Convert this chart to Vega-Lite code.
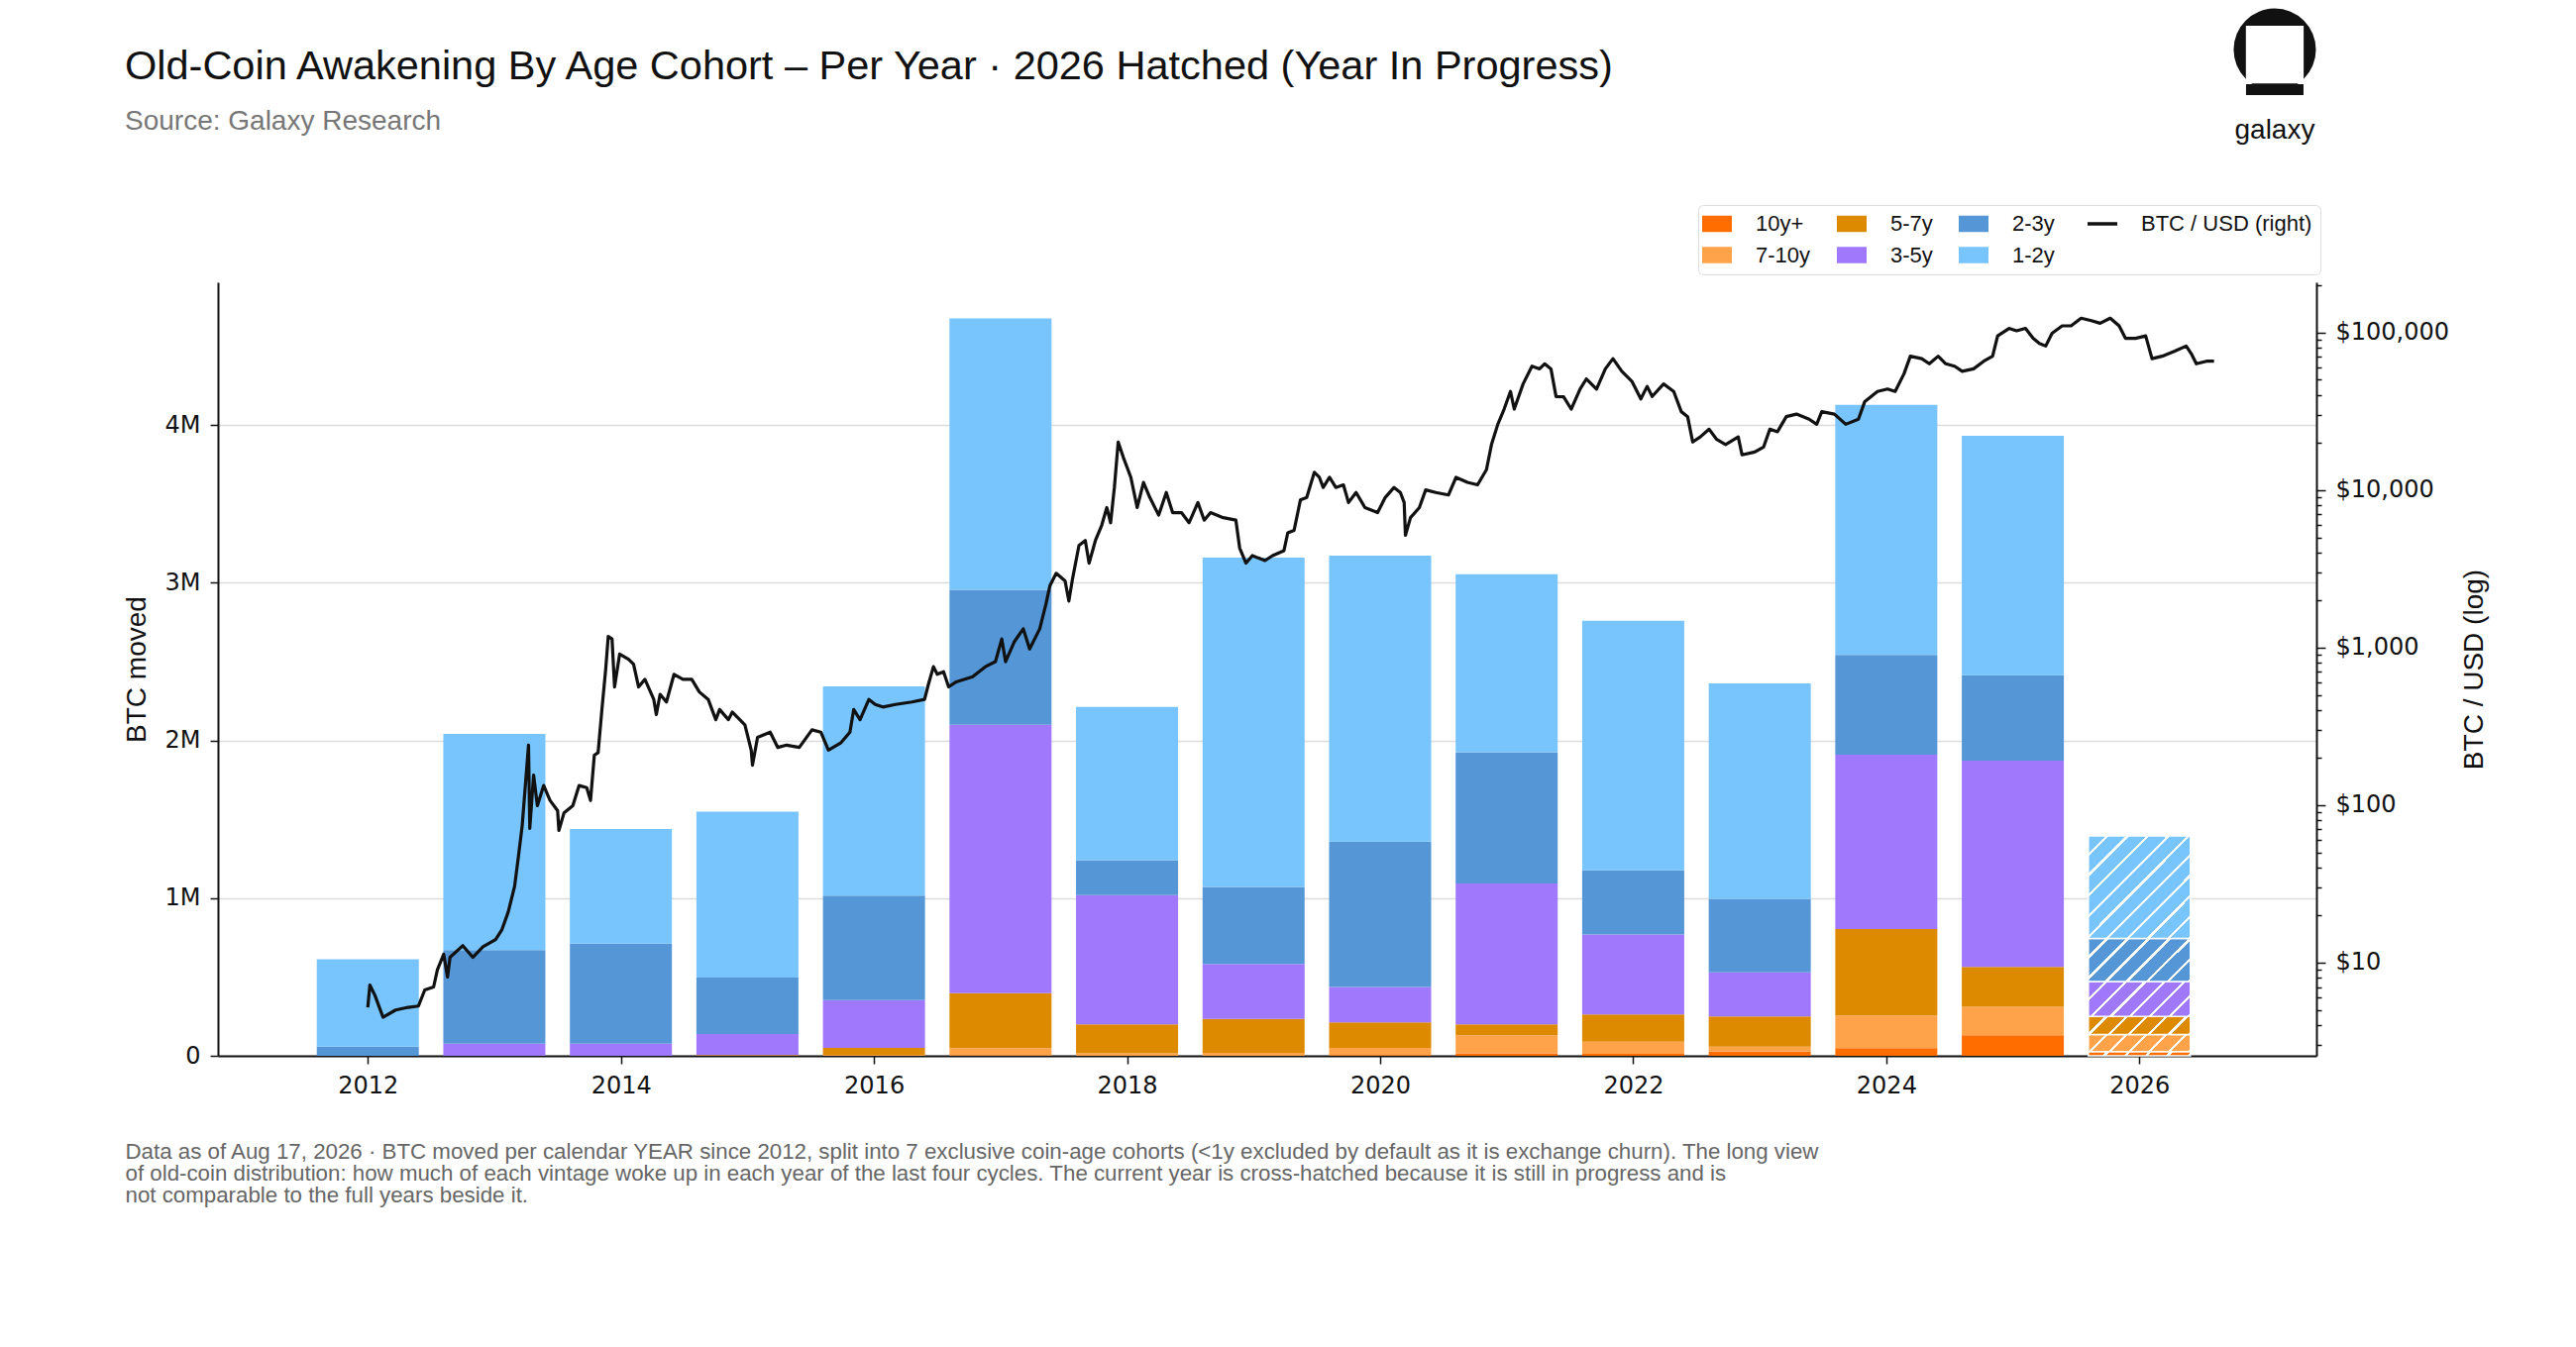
{
  "$schema": "https://vega.github.io/schema/vega-lite/v6.json",
  "description": "Old-coin awakening by age cohort, per year, with BTC/USD on a log right axis",
  "width": 2118,
  "height": 781,
  "autosize": {"type": "none"},
  "padding": {"left": 220, "top": 285, "right": 262, "bottom": 294},
  "background": "white",
  "title": {
    "text": "Old-Coin Awakening By Age Cohort \u2013 Per Year \u00b7 2026 Hatched (Year In Progress)",
    "subtitle": "Source: Galaxy Research",
    "anchor": "start",
    "frame": "group",
    "dx": -94,
    "offset": -129,
    "font": "Liberation Sans",
    "fontSize": 41.5,
    "fontWeight": "normal",
    "color": "#111111",
    "subtitleFont": "Liberation Sans",
    "subtitleFontSize": 28,
    "subtitleColor": "#777777",
    "subtitlePadding": 21
  },
  "config": {
    "view": {"stroke": null},
    "axis": {
      "labelFont": "DejaVu Sans",
      "labelFontSize": 24,
      "labelColor": "#111111",
      "domainColor": "#111111",
      "domainWidth": 2,
      "tickColor": "#111111",
      "tickWidth": 1.5,
      "tickSize": 8,
      "titleFont": "Liberation Sans",
      "titleFontSize": 28,
      "titleFontWeight": "normal",
      "titleColor": "#111111"
    }
  },
  "datasets": {
    "bars": [
      {"year": 2012, "cohort": "10y+", "k": 1, "btc": 0},
      {"year": 2012, "cohort": "7-10y", "k": 2, "btc": 0},
      {"year": 2012, "cohort": "5-7y", "k": 3, "btc": 0},
      {"year": 2012, "cohort": "3-5y", "k": 4, "btc": 0},
      {"year": 2012, "cohort": "2-3y", "k": 5, "btc": 58000},
      {"year": 2012, "cohort": "1-2y", "k": 6, "btc": 554000},
      {"year": 2013, "cohort": "10y+", "k": 1, "btc": 0},
      {"year": 2013, "cohort": "7-10y", "k": 2, "btc": 0},
      {"year": 2013, "cohort": "5-7y", "k": 3, "btc": 0},
      {"year": 2013, "cohort": "3-5y", "k": 4, "btc": 77000},
      {"year": 2013, "cohort": "2-3y", "k": 5, "btc": 593000},
      {"year": 2013, "cohort": "1-2y", "k": 6, "btc": 1372000},
      {"year": 2014, "cohort": "10y+", "k": 1, "btc": 0},
      {"year": 2014, "cohort": "7-10y", "k": 2, "btc": 0},
      {"year": 2014, "cohort": "5-7y", "k": 3, "btc": 0},
      {"year": 2014, "cohort": "3-5y", "k": 4, "btc": 77000},
      {"year": 2014, "cohort": "2-3y", "k": 5, "btc": 635000},
      {"year": 2014, "cohort": "1-2y", "k": 6, "btc": 727000},
      {"year": 2015, "cohort": "10y+", "k": 1, "btc": 0},
      {"year": 2015, "cohort": "7-10y", "k": 2, "btc": 0},
      {"year": 2015, "cohort": "5-7y", "k": 3, "btc": 5000},
      {"year": 2015, "cohort": "3-5y", "k": 4, "btc": 133000},
      {"year": 2015, "cohort": "2-3y", "k": 5, "btc": 359000},
      {"year": 2015, "cohort": "1-2y", "k": 6, "btc": 1051000},
      {"year": 2016, "cohort": "10y+", "k": 1, "btc": 0},
      {"year": 2016, "cohort": "7-10y", "k": 2, "btc": 6000},
      {"year": 2016, "cohort": "5-7y", "k": 3, "btc": 45000},
      {"year": 2016, "cohort": "3-5y", "k": 4, "btc": 302000},
      {"year": 2016, "cohort": "2-3y", "k": 5, "btc": 663000},
      {"year": 2016, "cohort": "1-2y", "k": 6, "btc": 1327000},
      {"year": 2017, "cohort": "10y+", "k": 1, "btc": 3000},
      {"year": 2017, "cohort": "7-10y", "k": 2, "btc": 45000},
      {"year": 2017, "cohort": "5-7y", "k": 3, "btc": 349000},
      {"year": 2017, "cohort": "3-5y", "k": 4, "btc": 1702000},
      {"year": 2017, "cohort": "2-3y", "k": 5, "btc": 856000},
      {"year": 2017, "cohort": "1-2y", "k": 6, "btc": 1721000},
      {"year": 2018, "cohort": "10y+", "k": 1, "btc": 0},
      {"year": 2018, "cohort": "7-10y", "k": 2, "btc": 16000},
      {"year": 2018, "cohort": "5-7y", "k": 3, "btc": 183000},
      {"year": 2018, "cohort": "3-5y", "k": 4, "btc": 820000},
      {"year": 2018, "cohort": "2-3y", "k": 5, "btc": 221000},
      {"year": 2018, "cohort": "1-2y", "k": 6, "btc": 972000},
      {"year": 2019, "cohort": "10y+", "k": 1, "btc": 0},
      {"year": 2019, "cohort": "7-10y", "k": 2, "btc": 19000},
      {"year": 2019, "cohort": "5-7y", "k": 3, "btc": 215000},
      {"year": 2019, "cohort": "3-5y", "k": 4, "btc": 349000},
      {"year": 2019, "cohort": "2-3y", "k": 5, "btc": 488000},
      {"year": 2019, "cohort": "1-2y", "k": 6, "btc": 2089000},
      {"year": 2020, "cohort": "10y+", "k": 1, "btc": 5000},
      {"year": 2020, "cohort": "7-10y", "k": 2, "btc": 46000},
      {"year": 2020, "cohort": "5-7y", "k": 3, "btc": 161000},
      {"year": 2020, "cohort": "3-5y", "k": 4, "btc": 224000},
      {"year": 2020, "cohort": "2-3y", "k": 5, "btc": 923000},
      {"year": 2020, "cohort": "1-2y", "k": 6, "btc": 1814000},
      {"year": 2021, "cohort": "10y+", "k": 1, "btc": 16000},
      {"year": 2021, "cohort": "7-10y", "k": 2, "btc": 115000},
      {"year": 2021, "cohort": "5-7y", "k": 3, "btc": 68000},
      {"year": 2021, "cohort": "3-5y", "k": 4, "btc": 894000},
      {"year": 2021, "cohort": "2-3y", "k": 5, "btc": 833000},
      {"year": 2021, "cohort": "1-2y", "k": 6, "btc": 1128000},
      {"year": 2022, "cohort": "10y+", "k": 1, "btc": 12000},
      {"year": 2022, "cohort": "7-10y", "k": 2, "btc": 78000},
      {"year": 2022, "cohort": "5-7y", "k": 3, "btc": 173000},
      {"year": 2022, "cohort": "3-5y", "k": 4, "btc": 506000},
      {"year": 2022, "cohort": "2-3y", "k": 5, "btc": 407000},
      {"year": 2022, "cohort": "1-2y", "k": 6, "btc": 1584000},
      {"year": 2023, "cohort": "10y+", "k": 1, "btc": 26000},
      {"year": 2023, "cohort": "7-10y", "k": 2, "btc": 32000},
      {"year": 2023, "cohort": "5-7y", "k": 3, "btc": 192000},
      {"year": 2023, "cohort": "3-5y", "k": 4, "btc": 279000},
      {"year": 2023, "cohort": "2-3y", "k": 5, "btc": 465000},
      {"year": 2023, "cohort": "1-2y", "k": 6, "btc": 1368000},
      {"year": 2024, "cohort": "10y+", "k": 1, "btc": 48000},
      {"year": 2024, "cohort": "7-10y", "k": 2, "btc": 208000},
      {"year": 2024, "cohort": "5-7y", "k": 3, "btc": 548000},
      {"year": 2024, "cohort": "3-5y", "k": 4, "btc": 1106000},
      {"year": 2024, "cohort": "2-3y", "k": 5, "btc": 632000},
      {"year": 2024, "cohort": "1-2y", "k": 6, "btc": 1586000},
      {"year": 2025, "cohort": "10y+", "k": 1, "btc": 131000},
      {"year": 2025, "cohort": "7-10y", "k": 2, "btc": 180000},
      {"year": 2025, "cohort": "5-7y", "k": 3, "btc": 253000},
      {"year": 2025, "cohort": "3-5y", "k": 4, "btc": 1308000},
      {"year": 2025, "cohort": "2-3y", "k": 5, "btc": 541000},
      {"year": 2025, "cohort": "1-2y", "k": 6, "btc": 1520000},
      {"year": 2026, "cohort": "10y+", "k": 1, "btc": 26000},
      {"year": 2026, "cohort": "7-10y", "k": 2, "btc": 109000},
      {"year": 2026, "cohort": "5-7y", "k": 3, "btc": 115000},
      {"year": 2026, "cohort": "3-5y", "k": 4, "btc": 221000},
      {"year": 2026, "cohort": "2-3y", "k": 5, "btc": 273000},
      {"year": 2026, "cohort": "1-2y", "k": 6, "btc": 650000}
    ],
    "price": [
      {"t": 2012.0, "p": 5.2}, {"t": 2012.016, "p": 7.2}, {"t": 2012.056, "p": 6.2}, {"t": 2012.12, "p": 4.5},
      {"t": 2012.22, "p": 5.0}, {"t": 2012.32, "p": 5.2}, {"t": 2012.4, "p": 5.3}, {"t": 2012.45, "p": 6.7},
      {"t": 2012.52, "p": 7.0}, {"t": 2012.55, "p": 9.0}, {"t": 2012.6, "p": 11.3}, {"t": 2012.63, "p": 8.1},
      {"t": 2012.65, "p": 10.8}, {"t": 2012.75, "p": 12.8}, {"t": 2012.83, "p": 10.8}, {"t": 2012.91, "p": 12.6},
      {"t": 2013.01, "p": 14.0}, {"t": 2013.06, "p": 16.2}, {"t": 2013.11, "p": 21}, {"t": 2013.16, "p": 30.5},
      {"t": 2013.19, "p": 47}, {"t": 2013.22, "p": 74}, {"t": 2013.27, "p": 240}, {"t": 2013.28, "p": 71},
      {"t": 2013.31, "p": 155}, {"t": 2013.34, "p": 99}, {"t": 2013.39, "p": 133}, {"t": 2013.44, "p": 107},
      {"t": 2013.5, "p": 92}, {"t": 2013.51, "p": 69}, {"t": 2013.55, "p": 89}, {"t": 2013.62, "p": 99},
      {"t": 2013.67, "p": 133}, {"t": 2013.73, "p": 129}, {"t": 2013.76, "p": 107}, {"t": 2013.79, "p": 207},
      {"t": 2013.82, "p": 215}, {"t": 2013.85, "p": 404}, {"t": 2013.88, "p": 728}, {"t": 2013.9, "p": 1175},
      {"t": 2013.93, "p": 1132}, {"t": 2013.95, "p": 562}, {"t": 2013.99, "p": 908}, {"t": 2014.06, "p": 843},
      {"t": 2014.1, "p": 783}, {"t": 2014.14, "p": 562}, {"t": 2014.19, "p": 628}, {"t": 2014.26, "p": 468},
      {"t": 2014.28, "p": 375}, {"t": 2014.31, "p": 504}, {"t": 2014.36, "p": 451}, {"t": 2014.42, "p": 676},
      {"t": 2014.49, "p": 628}, {"t": 2014.56, "p": 628}, {"t": 2014.62, "p": 522}, {"t": 2014.69, "p": 468},
      {"t": 2014.75, "p": 348}, {"t": 2014.78, "p": 404}, {"t": 2014.85, "p": 348}, {"t": 2014.88, "p": 389},
      {"t": 2014.98, "p": 323}, {"t": 2015.03, "p": 223}, {"t": 2015.04, "p": 179}, {"t": 2015.08, "p": 269},
      {"t": 2015.18, "p": 290}, {"t": 2015.24, "p": 232}, {"t": 2015.31, "p": 240}, {"t": 2015.41, "p": 232},
      {"t": 2015.51, "p": 300}, {"t": 2015.58, "p": 290}, {"t": 2015.64, "p": 223}, {"t": 2015.74, "p": 249},
      {"t": 2015.81, "p": 290}, {"t": 2015.84, "p": 404}, {"t": 2015.89, "p": 348}, {"t": 2015.96, "p": 468},
      {"t": 2016.01, "p": 435}, {"t": 2016.07, "p": 419}, {"t": 2016.17, "p": 435}, {"t": 2016.3, "p": 451},
      {"t": 2016.4, "p": 468}, {"t": 2016.43, "p": 583}, {"t": 2016.47, "p": 755}, {"t": 2016.5, "p": 676},
      {"t": 2016.55, "p": 702}, {"t": 2016.59, "p": 562}, {"t": 2016.65, "p": 605}, {"t": 2016.78, "p": 652},
      {"t": 2016.88, "p": 755}, {"t": 2016.96, "p": 813}, {"t": 2017.01, "p": 1132}, {"t": 2017.04, "p": 813},
      {"t": 2017.11, "p": 1091}, {"t": 2017.18, "p": 1314}, {"t": 2017.23, "p": 978}, {"t": 2017.31, "p": 1314},
      {"t": 2017.36, "p": 1900}, {"t": 2017.39, "p": 2460}, {"t": 2017.44, "p": 2958}, {"t": 2017.51, "p": 2650},
      {"t": 2017.54, "p": 1972}, {"t": 2017.57, "p": 2750}, {"t": 2017.62, "p": 4440}, {"t": 2017.67, "p": 4776},
      {"t": 2017.7, "p": 3430}, {"t": 2017.75, "p": 4776}, {"t": 2017.8, "p": 5970}, {"t": 2017.84, "p": 7730},
      {"t": 2017.87, "p": 6190}, {"t": 2017.9, "p": 10370}, {"t": 2017.93, "p": 20140}, {"t": 2017.97, "p": 16140},
      {"t": 2018.0, "p": 13930}, {"t": 2018.03, "p": 12020}, {"t": 2018.08, "p": 7730}, {"t": 2018.13, "p": 11170},
      {"t": 2018.18, "p": 8950}, {"t": 2018.25, "p": 6920}, {"t": 2018.31, "p": 9640}, {"t": 2018.36, "p": 7180},
      {"t": 2018.43, "p": 7180}, {"t": 2018.49, "p": 6190}, {"t": 2018.56, "p": 8320}, {"t": 2018.61, "p": 6430},
      {"t": 2018.66, "p": 7180}, {"t": 2018.76, "p": 6670}, {"t": 2018.86, "p": 6430}, {"t": 2018.89, "p": 4280},
      {"t": 2018.94, "p": 3430}, {"t": 2018.99, "p": 3830}, {"t": 2019.09, "p": 3560}, {"t": 2019.15, "p": 3830},
      {"t": 2019.24, "p": 4120}, {"t": 2019.27, "p": 5340}, {"t": 2019.32, "p": 5540}, {"t": 2019.37, "p": 8630},
      {"t": 2019.42, "p": 8950}, {"t": 2019.48, "p": 12940}, {"t": 2019.52, "p": 12020}, {"t": 2019.55, "p": 10370},
      {"t": 2019.6, "p": 12020}, {"t": 2019.65, "p": 10370}, {"t": 2019.71, "p": 10770}, {"t": 2019.75, "p": 8320},
      {"t": 2019.81, "p": 9640}, {"t": 2019.88, "p": 7730}, {"t": 2019.98, "p": 7180}, {"t": 2020.04, "p": 8950},
      {"t": 2020.11, "p": 10370}, {"t": 2020.16, "p": 9640}, {"t": 2020.19, "p": 8320}, {"t": 2020.2, "p": 5150},
      {"t": 2020.24, "p": 6670}, {"t": 2020.31, "p": 7730}, {"t": 2020.36, "p": 10000}, {"t": 2020.44, "p": 9640},
      {"t": 2020.54, "p": 9290}, {"t": 2020.6, "p": 12020}, {"t": 2020.69, "p": 11170}, {"t": 2020.77, "p": 10770},
      {"t": 2020.84, "p": 13430}, {"t": 2020.88, "p": 19410}, {"t": 2020.93, "p": 26100}, {"t": 2020.98, "p": 32600},
      {"t": 2021.03, "p": 42200}, {"t": 2021.06, "p": 32600}, {"t": 2021.13, "p": 47100}, {"t": 2021.2, "p": 61000},
      {"t": 2021.26, "p": 58700}, {"t": 2021.3, "p": 63200}, {"t": 2021.35, "p": 58700}, {"t": 2021.39, "p": 39200},
      {"t": 2021.45, "p": 39000}, {"t": 2021.51, "p": 32600}, {"t": 2021.58, "p": 43700}, {"t": 2021.63, "p": 50700},
      {"t": 2021.71, "p": 43700}, {"t": 2021.78, "p": 58700}, {"t": 2021.84, "p": 68100}, {"t": 2021.91, "p": 56600},
      {"t": 2021.99, "p": 48900}, {"t": 2022.06, "p": 37800}, {"t": 2022.11, "p": 45400}, {"t": 2022.15, "p": 39200},
      {"t": 2022.24, "p": 47100}, {"t": 2022.32, "p": 42200}, {"t": 2022.38, "p": 31400}, {"t": 2022.43, "p": 29200},
      {"t": 2022.47, "p": 20140}, {"t": 2022.53, "p": 21700}, {"t": 2022.6, "p": 24300}, {"t": 2022.66, "p": 20900},
      {"t": 2022.73, "p": 19400}, {"t": 2022.83, "p": 21700}, {"t": 2022.86, "p": 16700}, {"t": 2022.96, "p": 17400},
      {"t": 2023.03, "p": 18700}, {"t": 2023.08, "p": 24300}, {"t": 2023.14, "p": 23400}, {"t": 2023.21, "p": 29200},
      {"t": 2023.29, "p": 30300}, {"t": 2023.39, "p": 28100}, {"t": 2023.45, "p": 26100}, {"t": 2023.49, "p": 31400},
      {"t": 2023.59, "p": 30300}, {"t": 2023.68, "p": 26100}, {"t": 2023.78, "p": 28100}, {"t": 2023.83, "p": 36400},
      {"t": 2023.93, "p": 42200}, {"t": 2024.01, "p": 43700}, {"t": 2024.07, "p": 42200}, {"t": 2024.14, "p": 54600},
      {"t": 2024.19, "p": 70600}, {"t": 2024.28, "p": 68100}, {"t": 2024.34, "p": 63200}, {"t": 2024.41, "p": 70600},
      {"t": 2024.47, "p": 63200}, {"t": 2024.54, "p": 61000}, {"t": 2024.6, "p": 56600}, {"t": 2024.69, "p": 58700},
      {"t": 2024.77, "p": 65600}, {"t": 2024.84, "p": 70600}, {"t": 2024.88, "p": 95000}, {"t": 2024.97, "p": 106000},
      {"t": 2025.03, "p": 102300}, {"t": 2025.1, "p": 106000}, {"t": 2025.16, "p": 91700}, {"t": 2025.21, "p": 85000},
      {"t": 2025.26, "p": 81900}, {"t": 2025.31, "p": 98600}, {"t": 2025.39, "p": 110000}, {"t": 2025.46, "p": 110000},
      {"t": 2025.54, "p": 123000}, {"t": 2025.62, "p": 118600}, {"t": 2025.69, "p": 114300}, {"t": 2025.77, "p": 123000},
      {"t": 2025.84, "p": 110000}, {"t": 2025.89, "p": 91700}, {"t": 2025.97, "p": 91700}, {"t": 2026.05, "p": 95000},
      {"t": 2026.1, "p": 68100}, {"t": 2026.18, "p": 70600}, {"t": 2026.28, "p": 76000}, {"t": 2026.37, "p": 81900},
      {"t": 2026.41, "p": 73300}, {"t": 2026.45, "p": 63200}, {"t": 2026.53, "p": 65600}, {"t": 2026.59, "p": 65600}
    ]
  },
  "layer": [
    {
      "data": {"name": "bars"},
      "encoding": {
        "x": {
          "field": "year",
          "type": "quantitative",
          "scale": {"domain": [2010.855, 2027.36], "nice": false, "zero": false},
          "axis": {
            "values": [2012, 2014, 2016, 2018, 2020, 2022, 2024, 2026],
            "format": "d",
            "grid": false,
            "labelPadding": 10,
            "title": [
              "Data as of Aug 17, 2026 \u00b7 BTC moved per calendar YEAR since 2012, split into 7 exclusive coin-age cohorts (<1y excluded by default as it is exchange churn). The long view",
              "of old-coin distribution: how much of each vintage woke up in each year of the last four cycles. The current year is cross-hatched because it is still in progress and is",
              "not comparable to the full years beside it."
            ],
            "titleFont": "Liberation Sans",
            "titleFontSize": 22.3,
            "titleColor": "#666666",
            "titleAnchor": "start",
            "titleAlign": "left",
            "titleBaseline": "top",
            "titleLineHeight": 22,
            "titleX": -94,
            "titleY": 85
          }
        },
        "y": {
          "field": "btc",
          "type": "quantitative",
          "stack": "zero",
          "scale": {"domain": [0, 4906000], "nice": false},
          "axis": {
            "values": [0, 1000000, 2000000, 3000000, 4000000],
            "labelExpr": "datum.value == 0 ? '0' : (datum.value / 1000000) + 'M'",
            "grid": true,
            "gridColor": "#dcdcdc",
            "gridWidth": 1.5,
            "labelPadding": 10,
            "title": "BTC moved",
            "titlePadding": 14
          }
        },
        "order": {"field": "k", "type": "quantitative"}
      },
      "layer": [
        {
          "transform": [{"filter": "datum.year < 2026"}],
          "mark": {"type": "bar", "width": 103},
          "encoding": {
            "color": {
              "field": "cohort",
              "type": "nominal",
              "scale": {
                "domain": ["10y+", "7-10y", "5-7y", "3-5y", "2-3y", "1-2y", "BTC / USD (right)"],
                "range": ["#ff6d00", "#ffa34a", "#dd8a00", "#9f78fc", "#5597d6", "#78c4fc", "#111111"]
              },
              "legend": {
                "orient": "none",
                "legendX": 1494,
                "legendY": -78,
                "title": null,
                "columns": 4,
                "columnPadding": 26,
                "rowPadding": 9.5,
                "padding": 8,
                "symbolSize": 900,
                "symbolType": "M-1,-0.55H1V0.55H-1Z",
                "labelFont": "Liberation Sans",
                "labelFontSize": 22,
                "labelColor": "#111111",
                "labelOffset": 28,
                "labelLimit": 400,
                "strokeColor": "#dddddd",
                "fillColor": "white",
                "cornerRadius": 5,
                "encode": {
                  "symbols": {
                    "update": {
                      "shape": {"signal": "datum.value === 'BTC / USD (right)' ? 'M-1,0H1' : 'M-1,-0.55H1V0.55H-1Z'"},
                      "stroke": {"signal": "datum.value === 'BTC / USD (right)' ? '#111111' : 'transparent'"},
                      "strokeWidth": {"signal": "datum.value === 'BTC / USD (right)' ? 3.5 : 0"},
                      "opacity": {"value": 1}
                    }
                  }
                }
              }
            }
          }
        },
        {
          "transform": [{"filter": "datum.year == 2026"}],
          "mark": {"type": "bar", "width": 103, "stroke": "white", "strokeWidth": 1.5},
          "encoding": {
            "fill": {
              "condition": [
                {"test": "datum.cohort === '1-2y'", "value": {"gradient": "linear", "x1": 0, "y1": 0, "x2": 1, "y2": 1, "stops": [
                  {"offset": 0, "color": "#78c4fc"}, {"offset": 0.084, "color": "#78c4fc"}, {"offset": 0.084, "color": "white"}, {"offset": 0.1, "color": "white"},
                  {"offset": 0.1, "color": "#78c4fc"}, {"offset": 0.184, "color": "#78c4fc"}, {"offset": 0.184, "color": "white"}, {"offset": 0.2, "color": "white"},
                  {"offset": 0.2, "color": "#78c4fc"}, {"offset": 0.284, "color": "#78c4fc"}, {"offset": 0.284, "color": "white"}, {"offset": 0.3, "color": "white"},
                  {"offset": 0.3, "color": "#78c4fc"}, {"offset": 0.384, "color": "#78c4fc"}, {"offset": 0.384, "color": "white"}, {"offset": 0.4, "color": "white"},
                  {"offset": 0.4, "color": "#78c4fc"}, {"offset": 0.484, "color": "#78c4fc"}, {"offset": 0.484, "color": "white"}, {"offset": 0.5, "color": "white"},
                  {"offset": 0.5, "color": "#78c4fc"}, {"offset": 0.584, "color": "#78c4fc"}, {"offset": 0.584, "color": "white"}, {"offset": 0.6, "color": "white"},
                  {"offset": 0.6, "color": "#78c4fc"}, {"offset": 0.684, "color": "#78c4fc"}, {"offset": 0.684, "color": "white"}, {"offset": 0.7, "color": "white"},
                  {"offset": 0.7, "color": "#78c4fc"}, {"offset": 0.784, "color": "#78c4fc"}, {"offset": 0.784, "color": "white"}, {"offset": 0.8, "color": "white"},
                  {"offset": 0.8, "color": "#78c4fc"}, {"offset": 0.884, "color": "#78c4fc"}, {"offset": 0.884, "color": "white"}, {"offset": 0.9, "color": "white"},
                  {"offset": 0.9, "color": "#78c4fc"}, {"offset": 0.984, "color": "#78c4fc"}, {"offset": 0.984, "color": "white"}, {"offset": 1, "color": "white"}
                ]}},
                {"test": "datum.cohort === '2-3y'", "value": {"gradient": "linear", "x1": 0, "y1": 0, "x2": 1.207, "y2": 0.51, "stops": [
                  {"offset": 0, "color": "#5597d6"}, {"offset": 0.12, "color": "#5597d6"}, {"offset": 0.12, "color": "white"}, {"offset": 0.1429, "color": "white"},
                  {"offset": 0.1429, "color": "#5597d6"}, {"offset": 0.2629, "color": "#5597d6"}, {"offset": 0.2629, "color": "white"}, {"offset": 0.2857, "color": "white"},
                  {"offset": 0.2857, "color": "#5597d6"}, {"offset": 0.4057, "color": "#5597d6"}, {"offset": 0.4057, "color": "white"}, {"offset": 0.4286, "color": "white"},
                  {"offset": 0.4286, "color": "#5597d6"}, {"offset": 0.5486, "color": "#5597d6"}, {"offset": 0.5486, "color": "white"}, {"offset": 0.5714, "color": "white"},
                  {"offset": 0.5714, "color": "#5597d6"}, {"offset": 0.6914, "color": "#5597d6"}, {"offset": 0.6914, "color": "white"}, {"offset": 0.7143, "color": "white"},
                  {"offset": 0.7143, "color": "#5597d6"}, {"offset": 0.8343, "color": "#5597d6"}, {"offset": 0.8343, "color": "white"}, {"offset": 0.8571, "color": "white"},
                  {"offset": 0.8571, "color": "#5597d6"}, {"offset": 0.9771, "color": "#5597d6"}, {"offset": 0.9771, "color": "white"}, {"offset": 1, "color": "white"}
                ]}},
                {"test": "datum.cohort === '3-5y'", "value": {"gradient": "linear", "x1": 0, "y1": 0, "x2": 1.202, "y2": 0.411, "stops": [
                  {"offset": 0, "color": "#9f78fc"}, {"offset": 0.12, "color": "#9f78fc"}, {"offset": 0.12, "color": "white"}, {"offset": 0.1429, "color": "white"},
                  {"offset": 0.1429, "color": "#9f78fc"}, {"offset": 0.2629, "color": "#9f78fc"}, {"offset": 0.2629, "color": "white"}, {"offset": 0.2857, "color": "white"},
                  {"offset": 0.2857, "color": "#9f78fc"}, {"offset": 0.4057, "color": "#9f78fc"}, {"offset": 0.4057, "color": "white"}, {"offset": 0.4286, "color": "white"},
                  {"offset": 0.4286, "color": "#9f78fc"}, {"offset": 0.5486, "color": "#9f78fc"}, {"offset": 0.5486, "color": "white"}, {"offset": 0.5714, "color": "white"},
                  {"offset": 0.5714, "color": "#9f78fc"}, {"offset": 0.6914, "color": "#9f78fc"}, {"offset": 0.6914, "color": "white"}, {"offset": 0.7143, "color": "white"},
                  {"offset": 0.7143, "color": "#9f78fc"}, {"offset": 0.8343, "color": "#9f78fc"}, {"offset": 0.8343, "color": "white"}, {"offset": 0.8571, "color": "white"},
                  {"offset": 0.8571, "color": "#9f78fc"}, {"offset": 0.9771, "color": "#9f78fc"}, {"offset": 0.9771, "color": "white"}, {"offset": 1, "color": "white"}
                ]}},
                {"test": "datum.cohort === '5-7y'", "value": {"gradient": "linear", "x1": 0, "y1": 0, "x2": 1.142, "y2": 0.203, "stops": [
                  {"offset": 0, "color": "#dd8a00"}, {"offset": 0.14, "color": "#dd8a00"}, {"offset": 0.14, "color": "white"}, {"offset": 0.1667, "color": "white"},
                  {"offset": 0.1667, "color": "#dd8a00"}, {"offset": 0.3067, "color": "#dd8a00"}, {"offset": 0.3067, "color": "white"}, {"offset": 0.3333, "color": "white"},
                  {"offset": 0.3333, "color": "#dd8a00"}, {"offset": 0.4733, "color": "#dd8a00"}, {"offset": 0.4733, "color": "white"}, {"offset": 0.5, "color": "white"},
                  {"offset": 0.5, "color": "#dd8a00"}, {"offset": 0.64, "color": "#dd8a00"}, {"offset": 0.64, "color": "white"}, {"offset": 0.6667, "color": "white"},
                  {"offset": 0.6667, "color": "#dd8a00"}, {"offset": 0.8067, "color": "#dd8a00"}, {"offset": 0.8067, "color": "white"}, {"offset": 0.8333, "color": "white"},
                  {"offset": 0.8333, "color": "#dd8a00"}, {"offset": 0.9733, "color": "#dd8a00"}, {"offset": 0.9733, "color": "white"}, {"offset": 1, "color": "white"}
                ]}},
                {"test": "datum.cohort === '7-10y'", "value": {"gradient": "linear", "x1": 0, "y1": 0, "x2": 1.137, "y2": 0.192, "stops": [
                  {"offset": 0, "color": "#ffa34a"}, {"offset": 0.14, "color": "#ffa34a"}, {"offset": 0.14, "color": "white"}, {"offset": 0.1667, "color": "white"},
                  {"offset": 0.1667, "color": "#ffa34a"}, {"offset": 0.3067, "color": "#ffa34a"}, {"offset": 0.3067, "color": "white"}, {"offset": 0.3333, "color": "white"},
                  {"offset": 0.3333, "color": "#ffa34a"}, {"offset": 0.4733, "color": "#ffa34a"}, {"offset": 0.4733, "color": "white"}, {"offset": 0.5, "color": "white"},
                  {"offset": 0.5, "color": "#ffa34a"}, {"offset": 0.64, "color": "#ffa34a"}, {"offset": 0.64, "color": "white"}, {"offset": 0.6667, "color": "white"},
                  {"offset": 0.6667, "color": "#ffa34a"}, {"offset": 0.8067, "color": "#ffa34a"}, {"offset": 0.8067, "color": "white"}, {"offset": 0.8333, "color": "white"},
                  {"offset": 0.8333, "color": "#ffa34a"}, {"offset": 0.9733, "color": "#ffa34a"}, {"offset": 0.9733, "color": "white"}, {"offset": 1, "color": "white"}
                ]}},
                {"test": "datum.cohort === '10y+'", "value": {"gradient": "linear", "x1": 0, "y1": 0, "x2": 1.038, "y2": 0.041, "stops": [
                  {"offset": 0, "color": "#ff6d00"}, {"offset": 0.168, "color": "#ff6d00"}, {"offset": 0.168, "color": "white"}, {"offset": 0.2, "color": "white"},
                  {"offset": 0.2, "color": "#ff6d00"}, {"offset": 0.368, "color": "#ff6d00"}, {"offset": 0.368, "color": "white"}, {"offset": 0.4, "color": "white"},
                  {"offset": 0.4, "color": "#ff6d00"}, {"offset": 0.568, "color": "#ff6d00"}, {"offset": 0.568, "color": "white"}, {"offset": 0.6, "color": "white"},
                  {"offset": 0.6, "color": "#ff6d00"}, {"offset": 0.768, "color": "#ff6d00"}, {"offset": 0.768, "color": "white"}, {"offset": 0.8, "color": "white"},
                  {"offset": 0.8, "color": "#ff6d00"}, {"offset": 0.968, "color": "#ff6d00"}, {"offset": 0.968, "color": "white"}, {"offset": 1, "color": "white"}
                ]}}
              ],
              "value": "#cccccc"
            }
          }
        }
      ]
    },
    {
      "data": {"name": "price"},
      "mark": {"type": "line", "color": "#111111", "strokeWidth": 3.2, "strokeJoin": "round"},
      "encoding": {
        "x": {"field": "t", "type": "quantitative"},
        "y": {
          "field": "p",
          "type": "quantitative",
          "scale": {"type": "log", "domain": [2.56, 208000], "nice": false, "zero": false},
          "axis": {
            "orient": "right",
            "grid": false,
            "values": [3, 4, 5, 6, 7, 8, 9, 10, 20, 30, 40, 50, 60, 70, 80, 90, 100, 200, 300, 400, 500, 600, 700, 800, 900, 1000, 2000, 3000, 4000, 5000, 6000, 7000, 8000, 9000, 10000, 20000, 30000, 40000, 50000, 60000, 70000, 80000, 90000, 100000, 200000],
            "labelExpr": "indexof([10, 100, 1000, 10000, 100000], datum.value) >= 0 ? '$' + format(datum.value, ',') : ''",
            "tickSize": {"condition": {"test": "indexof([10, 100, 1000, 10000, 100000], datum.value) >= 0", "value": 9}, "value": 5},
            "labelPadding": 10,
            "title": "BTC / USD (log)",
            "titleAngle": 270,
            "titlePadding": 40
          }
        }
      }
    },
    {
      "data": {"values": [{"brand": "galaxy"}]},
      "encoding": {
        "x": {"datum": 2027.07, "type": "quantitative", "scale": {"domain": [2010.855, 2027.36], "nice": false, "zero": false}}
      },
      "layer": [
        {
          "mark": {"type": "point", "shape": "circle", "filled": true, "size": 6900, "color": "#111111", "opacity": 1, "clip": false},
          "encoding": {"y": {"datum": 6382000, "type": "quantitative", "scale": {"domain": [0, 4906000], "nice": false}, "axis": null}}
        },
        {
          "mark": {"type": "point", "shape": "square", "filled": true, "size": 3400, "color": "white", "opacity": 1, "clip": false},
          "encoding": {"y": {"datum": 6350000, "type": "quantitative"}}
        },
        {
          "mark": {"type": "point", "shape": "M-1,-0.19H1V0.19H-1Z", "filled": true, "size": 3364, "color": "#111111", "opacity": 1, "clip": false},
          "encoding": {"y": {"datum": 6128000, "type": "quantitative"}}
        },
        {
          "mark": {"type": "text", "font": "Liberation Sans", "fontSize": 28, "color": "#111111", "baseline": "alphabetic", "clip": false},
          "encoding": {"text": {"field": "brand"}, "y": {"datum": 5817000, "type": "quantitative"}}
        }
      ]
    }
  ],
  "resolve": {"scale": {"y": "independent"}}
}
